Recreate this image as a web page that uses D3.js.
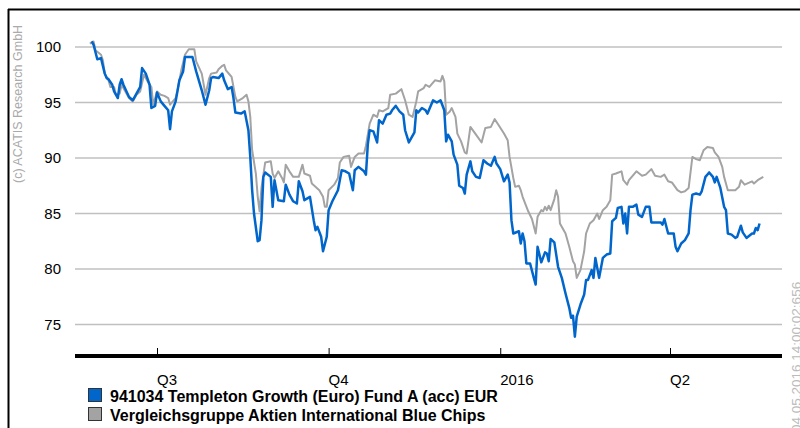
<!DOCTYPE html>
<html>
<head>
<meta charset="utf-8">
<script src="https://cdn.jsdelivr.net/npm/d3@7"></script>
<style>
  body { margin: 0; background: #fff; }
  text { font-family: "Liberation Sans", Arial, sans-serif; }
</style>
</head>
<body>
<svg class="chart"></svg>
<script>
let width = 800,
  height = 428;

// fund: 941034 Templeton Growth (Euro) Fund A (acc) EUR
let fundDates = [
  "2015-05-27","2015-05-28","2015-05-30","2015-06-01","2015-06-03","2015-06-04","2015-06-05","2015-06-07","2015-06-08","2015-06-10",
  "2015-06-11","2015-06-12","2015-06-13","2015-06-16","2015-06-18","2015-06-20","2015-06-22","2015-06-23","2015-06-25","2015-06-27",
  "2015-06-28","2015-06-30","2015-07-01","2015-07-03","2015-07-05","2015-07-07","2015-07-08","2015-07-09","2015-07-11","2015-07-13",
  "2015-07-15","2015-07-16","2015-07-20","2015-07-22","2015-07-25","2015-07-27","2015-07-29","2015-07-30","2015-07-31","2015-08-03",
  "2015-08-05","2015-08-06","2015-08-08","2015-08-10","2015-08-11","2015-08-12","2015-08-15","2015-08-17","2015-08-19","2015-08-20",
  "2015-08-21","2015-08-22","2015-08-24","2015-08-25","2015-08-26","2015-08-27","2015-08-28","2015-08-31","2015-09-01","2015-09-02",
  "2015-09-04","2015-09-07","2015-09-08","2015-09-10","2015-09-12","2015-09-14","2015-09-15","2015-09-17","2015-09-18","2015-09-21",
  "2015-09-23","2015-09-24","2015-09-25","2015-09-27","2015-09-28","2015-09-30","2015-10-01","2015-10-03","2015-10-06","2015-10-08",
  "2015-10-10","2015-10-12","2015-10-14","2015-10-15","2015-10-17","2015-10-20","2015-10-21","2015-10-22","2015-10-23","2015-10-25",
  "2015-10-27","2015-10-28","2015-10-30","2015-11-01","2015-11-03","2015-11-04","2015-11-06","2015-11-08","2015-11-10","2015-11-11",
  "2015-11-13","2015-11-16","2015-11-17","2015-11-18","2015-11-20","2015-11-22","2015-11-23","2015-11-26","2015-11-28","2015-11-30",
  "2015-12-02","2015-12-03","2015-12-04","2015-12-06","2015-12-07","2015-12-09","2015-12-10","2015-12-12","2015-12-13","2015-12-14",
  "2015-12-16","2015-12-17","2015-12-19","2015-12-21","2015-12-23","2015-12-25","2015-12-27","2015-12-29","2015-12-30","2016-01-01",
  "2016-01-03","2016-01-05","2016-01-06","2016-01-07","2016-01-08","2016-01-11","2016-01-12","2016-01-13","2016-01-14","2016-01-15",
  "2016-01-17","2016-01-19","2016-01-20","2016-01-21","2016-01-22","2016-01-23","2016-01-25","2016-01-26","2016-01-27","2016-01-28",
  "2016-01-30","2016-02-01","2016-02-03","2016-02-05","2016-02-07","2016-02-08","2016-02-09","2016-02-10","2016-02-11","2016-02-13",
  "2016-02-15","2016-02-16","2016-02-17","2016-02-19","2016-02-20","2016-02-21","2016-02-22","2016-02-23","2016-02-25","2016-02-27",
  "2016-02-29","2016-03-01","2016-03-03","2016-03-04","2016-03-06","2016-03-07","2016-03-08","2016-03-09","2016-03-10","2016-03-12",
  "2016-03-14","2016-03-15","2016-03-17","2016-03-19","2016-03-21","2016-03-22","2016-03-27","2016-03-28","2016-03-29","2016-03-31",
  "2016-04-03","2016-04-04","2016-04-05","2016-04-07","2016-04-09","2016-04-11","2016-04-12","2016-04-13","2016-04-15","2016-04-17",
  "2016-04-18","2016-04-20","2016-04-22","2016-04-24","2016-04-25","2016-04-26","2016-04-28","2016-04-30","2016-05-01","2016-05-02",
  "2016-05-04","2016-05-06","2016-05-07","2016-05-09","2016-05-10","2016-05-12","2016-05-15","2016-05-16","2016-05-17","2016-05-18",
  "2016-05-19"
];
let fundValues = [
  100.5,100.2,98.9,99.0,97.6,97.2,97.1,96.6,96.0,95.4,
  96.6,97.1,96.6,95.5,95.2,95.8,96.4,98.1,97.6,96.6,
  94.5,94.7,95.9,95.1,94.7,94.3,92.6,94.2,95.1,97.0,
  97.8,99.1,99.1,97.8,96.1,94.8,96.1,97.2,97.3,97.2,
  97.6,97.0,96.2,96.4,95.4,94.1,94.0,94.2,92.5,90.1,
  87.1,85.0,82.5,82.6,84.4,88.3,88.7,88.3,85.6,88.0,
  86.2,86.1,87.6,86.7,86.1,85.9,87.9,87.0,86.2,86.5,
  84.4,83.5,83.8,82.9,81.6,82.9,85.3,86.1,87.1,88.9,
  88.8,88.6,87.1,88.9,89.2,88.8,88.5,91.2,92.5,92.4,
  91.4,93.4,93.1,93.9,94.0,94.3,94.7,94.2,93.9,92.5,
  91.4,92.3,94.3,94.1,94.5,94.3,94.0,95.2,95.0,95.2,
  94.3,91.5,92.1,91.5,90.3,89.4,87.5,87.3,86.8,88.5,
  89.7,88.8,88.3,88.2,89.8,89.5,89.3,90.1,89.5,89.0,
  87.9,88.5,87.8,84.4,83.2,83.4,82.3,83.2,82.5,80.5,
  80.5,79.2,78.6,82.0,81.3,80.6,81.5,81.4,80.7,82.7,
  82.4,80.2,79.2,77.8,76.5,75.6,75.8,73.9,75.7,76.8,
  77.7,79.0,79.0,79.9,79.2,81.0,80.1,79.2,81.0,81.3,
  81.4,84.3,84.6,85.5,85.6,84.1,85.0,83.2,85.6,85.6,
  85.8,84.9,84.7,85.6,85.6,84.2,84.2,84.0,84.5,83.2,
  83.2,82.0,81.6,82.3,82.6,83.2,85.3,86.7,86.8,86.7,
  87.0,88.3,88.7,88.3,87.8,88.3,87.3,85.6,85.3,83.2,
  83.1,82.8,82.9,83.9,83.3,82.8,83.2,83.2,83.7,83.5,
  84.1
];

// peer group: Vergleichsgruppe Aktien International Blue Chips
let peerDates = [
  "2015-05-26","2015-05-28","2015-05-29","2015-06-01","2015-06-02","2015-06-03","2015-06-05","2015-06-06","2015-06-08","2015-06-09",
  "2015-06-11","2015-06-12","2015-06-16","2015-06-18","2015-06-20","2015-06-22","2015-06-24","2015-06-26","2015-06-28","2015-06-29",
  "2015-07-01","2015-07-03","2015-07-05","2015-07-07","2015-07-08","2015-07-11","2015-07-12","2015-07-14","2015-07-16","2015-07-18",
  "2015-07-21","2015-07-22","2015-07-25","2015-07-27","2015-07-29","2015-07-30","2015-08-02","2015-08-03","2015-08-05","2015-08-06",
  "2015-08-07","2015-08-09","2015-08-10","2015-08-12","2015-08-13","2015-08-16","2015-08-18","2015-08-19","2015-08-20","2015-08-21",
  "2015-08-23","2015-08-24","2015-08-25","2015-08-26","2015-08-28","2015-08-31","2015-09-01","2015-09-02","2015-09-04","2015-09-06",
  "2015-09-07","2015-09-08","2015-09-10","2015-09-12","2015-09-15","2015-09-17","2015-09-18","2015-09-21","2015-09-22","2015-09-26",
  "2015-09-28","2015-09-29","2015-09-30","2015-10-01","2015-10-04","2015-10-06","2015-10-07","2015-10-09","2015-10-12","2015-10-13",
  "2015-10-15","2015-10-17","2015-10-20","2015-10-21","2015-10-23","2015-10-25","2015-10-27","2015-10-28","2015-10-30","2015-11-02",
  "2015-11-03","2015-11-06","2015-11-09","2015-11-10","2015-11-11","2015-11-13","2015-11-15","2015-11-17","2015-11-18","2015-11-21",
  "2015-11-22","2015-11-24","2015-11-27","2015-11-30","2015-12-01","2015-12-02","2015-12-03","2015-12-05","2015-12-06","2015-12-08",
  "2015-12-09","2015-12-11","2015-12-13","2015-12-14","2015-12-16","2015-12-19","2015-12-22","2015-12-24","2015-12-27","2015-12-29",
  "2015-12-31","2016-01-03","2016-01-05","2016-01-06","2016-01-08","2016-01-09","2016-01-11","2016-01-12","2016-01-13","2016-01-16",
  "2016-01-18","2016-01-20","2016-01-21","2016-01-23","2016-01-24","2016-01-25","2016-01-26","2016-01-27","2016-01-28","2016-01-30",
  "2016-01-31","2016-02-01","2016-02-02","2016-02-05","2016-02-07","2016-02-09","2016-02-10","2016-02-11","2016-02-13","2016-02-15",
  "2016-02-16","2016-02-18","2016-02-20","2016-02-22","2016-02-23","2016-02-25","2016-02-27","2016-02-29","2016-03-01","2016-03-03",
  "2016-03-06","2016-03-07","2016-03-09","2016-03-10","2016-03-14","2016-03-17","2016-03-19","2016-03-22","2016-03-24","2016-03-27",
  "2016-03-29","2016-03-31","2016-04-02","2016-04-05","2016-04-07","2016-04-09","2016-04-11","2016-04-13","2016-04-15","2016-04-17",
  "2016-04-19","2016-04-21","2016-04-24","2016-04-25","2016-04-27","2016-04-29","2016-04-30","2016-05-02","2016-05-06","2016-05-08",
  "2016-05-09","2016-05-11","2016-05-15","2016-05-16","2016-05-18","2016-05-21"
];
let peerValues = [
  100.3,100.5,99.7,99.3,98.8,97.6,97.0,96.4,96.4,95.7,
  95.8,96.6,95.4,95.1,95.7,96.0,97.5,96.9,96.4,94.8,
  96.0,95.7,95.6,95.4,94.8,95.4,96.1,97.9,99.3,99.8,
  99.8,98.7,97.6,95.7,97.2,97.6,97.7,98.0,98.3,98.4,
  97.9,97.5,97.3,95.5,95.1,95.4,95.7,95.1,93.7,90.7,
  88.6,86.5,85.2,87.3,89.6,89.7,88.6,88.2,88.8,88.2,
  87.8,89.4,88.8,88.3,88.3,89.4,88.6,88.4,87.7,87.1,
  86.5,85.6,85.6,87.1,87.6,88.2,89.6,90.1,90.2,89.2,
  90.1,90.4,90.4,91.1,93.1,93.9,93.7,94.3,94.2,94.5,
  95.7,95.8,96.2,95.7,95.2,93.9,93.7,95.1,96.0,96.3,
  96.6,96.4,97.0,96.9,97.4,96.9,93.9,94.2,94.5,93.7,
  92.2,91.5,90.5,90.4,92.8,92.1,91.4,92.7,92.8,93.5,
  93.0,92.2,91.6,90.1,88.2,87.4,87.5,87.1,86.5,85.2,
  84.5,83.2,84.7,85.3,85.2,85.6,85.3,85.7,85.3,86.3,
  87.1,86.5,84.1,83.2,82.0,80.7,80.4,79.2,79.9,81.6,
  83.2,84.1,84.4,85.0,84.5,85.3,85.6,86.2,88.5,88.6,
  88.8,88.0,87.6,88.0,88.8,88.4,88.5,89.0,88.4,88.3,
  88.5,87.9,87.8,87.1,86.9,87.0,87.3,90.1,89.9,89.8,
  90.7,91.0,90.9,90.5,90.1,89.2,88.3,87.1,87.1,87.4,
  88.0,87.6,87.9,87.7,88.0,88.3
];

let yTicks = [75, 80, 85, 90, 95, 100];
let xTicks = ["2015-07-01", "2015-10-01", "2016-01-01", "2016-04-01"];
let xTickLabels = ["Q3", "Q4", "2016", "Q2"];
let legendLabels = [
  "941034 Templeton Growth (Euro) Fund A (acc) EUR",
  "Vergleichsgruppe Aktien International Blue Chips",
];
let colors = ["#0066cc", "#a3a3a3"];

let parse = d3.timeParse("%Y-%m-%d");

let svg = d3.select(".chart").attr("width", width).attr("height", height);

// frame
svg.append("line").attr("x1", 8).attr("x2", width).attr("y1", 9.5).attr("y2", 9.5)
  .attr("stroke", "#000").attr("stroke-width", 2);
svg.append("line").attr("x1", 8.5).attr("x2", 8.5).attr("y1", 9).attr("y2", height)
  .attr("stroke", "#000").attr("stroke-width", 2);

let x = d3.scaleTime()
  .domain([parse("2015-07-01"), parse("2016-04-01")])
  .range([157, 670]);
let y = d3.scaleLinear().domain([75, 100]).range([324.5, 47]);

let left = 75, right = 782, axisY = 356;

// grid + y labels
let grid = svg.append("g");
grid.selectAll("line").data(yTicks).enter().append("line")
  .attr("x1", left).attr("x2", right)
  .attr("y1", (d) => y(d)).attr("y2", (d) => y(d))
  .attr("stroke", "#c0c0c0").attr("stroke-width", 1.5);
grid.selectAll("text").data(yTicks).enter().append("text")
  .attr("x", 61).attr("y", (d) => y(d)).attr("dy", "0.36em")
  .attr("text-anchor", "end").attr("font-size", 15).attr("fill", "#000")
  .text((d) => d);

// lines
let line = d3.line().x((d) => x(d[0])).y((d) => y(d[1]));
let peer = peerDates.map((d, i) => [parse(d), peerValues[i]]);
let fund = fundDates.map((d, i) => [parse(d), fundValues[i]]);

svg.append("path").datum(peer).attr("d", line)
  .attr("fill", "none").attr("stroke", colors[1]).attr("stroke-width", 2)
  .attr("stroke-linejoin", "round");
svg.append("path").datum(fund).attr("d", line)
  .attr("fill", "none").attr("stroke", colors[0]).attr("stroke-width", 2.5)
  .attr("stroke-linejoin", "round");

// x axis
svg.append("line").attr("x1", left).attr("x2", right).attr("y1", axisY).attr("y2", axisY)
  .attr("stroke", "#000").attr("stroke-width", 4);
let xt = svg.append("g");
xt.selectAll("line").data(xTicks).enter().append("line")
  .attr("x1", (d) => x(parse(d)) + 0.5).attr("x2", (d) => x(parse(d)) + 0.5)
  .attr("y1", 348).attr("y2", axisY)
  .attr("stroke", "#000").attr("stroke-width", 1);
xt.selectAll("text").data(xTicks).enter().append("text")
  .attr("x", (d) => x(parse(d))).attr("y", 385)
  .attr("font-size", 15).attr("fill", "#000")
  .text((d, i) => xTickLabels[i]);

// legend
let lg = svg.append("g").selectAll("g").data(legendLabels).enter().append("g")
  .attr("transform", (d, i) => "translate(88," + (388 + i * 19) + ")");
lg.append("rect").attr("x", 0.5).attr("y", 0.5).attr("width", 13).attr("height", 13)
  .attr("fill", (d, i) => colors[i]).attr("stroke", "#333").attr("stroke-width", 1);
lg.append("text").attr("x", 22).attr("y", 13.5)
  .attr("font-size", 16).attr("font-weight", "bold").attr("fill", "#000")
  .text((d) => d);

// watermarks
svg.append("text").attr("transform", "translate(22,183) rotate(-90)")
  .attr("font-size", 12.5).attr("fill", "#aaa")
  .text("(c) ACATIS Research GmbH");
svg.append("text").attr("transform", "translate(801,432) rotate(-90)")
  .attr("font-size", 13.5).attr("fill", "#bbb")
  .text("04.05.2016 14:00:02:656");
</script>
</body>
</html>
